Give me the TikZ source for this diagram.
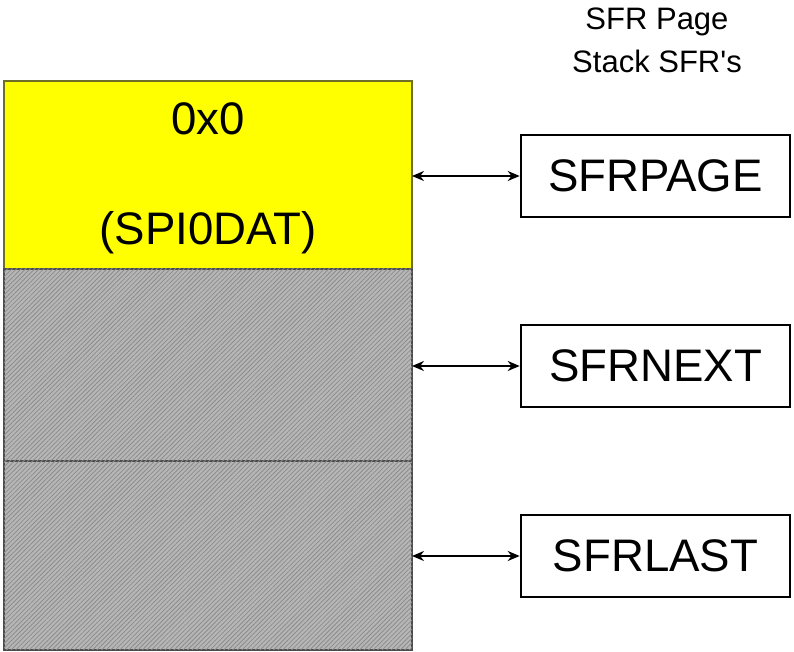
\documentclass[tikz,border=0pt]{standalone}
\usepackage{fontspec}
\setmainfont{Liberation Sans}
\usetikzlibrary{arrows.meta,patterns.meta}
\definecolor{hatchgray}{RGB}{182,182,182}
\definecolor{hatchline}{RGB}{140,140,140}
\definecolor{olive}{RGB}{110,110,40}
\begin{document}
\begin{tikzpicture}[x=0.5pt,y=-0.5pt,
  block/.style={draw, inner sep=0pt, outer sep=0pt, minimum width=204pt},
  yellowblock/.style={block, fill={rgb,255:red,255;green,255;blue,0}, draw=olive, line width=0.6pt},
  grayblock/.style={block, draw=black!70, line width=1pt, fill=hatchgray,
    postaction={pattern={Lines[angle=45,distance=1.6pt,line width=0.4pt]}, pattern color=hatchline}},
  regbox/.style={draw, line width=1.3pt, minimum width=134.5pt, minimum height=41pt, inner sep=0pt, font=\fontsize{22.8}{27}\selectfont},
  link/.style={line width=1.1pt, {Stealth[length=6pt,width=5pt]}-{Stealth[length=6pt,width=5pt]}},
  big/.style={font=\fontsize{22.8}{27}\selectfont, anchor=base, inner sep=0pt},
  head/.style={font=\fontsize{15.5}{18}\selectfont, anchor=base, inner sep=0pt}]
\useasboundingbox (0,0) rectangle (794,652);
\fill[white] (0,0) rectangle (794,652);
\node[yellowblock, minimum height=94pt] (y) at (208,175) {};
\node[grayblock, minimum height=96pt] (g1) at (208,365) {};
\node[grayblock, minimum height=94.5pt] (g2) at (208,555.5) {};
\node[big] (t1) at (208,135) {0x0};
\node[big] (t2) at (208,245) {(SPI0DAT)};
\node[head] (h1) at (657,30) {SFR Page};
\node[head] (h2) at (657,73) {Stack SFR\textquotesingle s};
\node[regbox] (b1) at (655.5,176) {SFRPAGE};
\node[regbox] (b2) at (655.5,366) {SFRNEXT};
\node[regbox] (b3) at (655.5,556) {SFRLAST};
\draw[link] (y.east |- b1.west) -- (b1.west);
\draw[link] (g1.east |- b2.west) -- (b2.west);
\draw[link] (g2.east |- b3.west) -- (b3.west);
\end{tikzpicture}
\end{document}
